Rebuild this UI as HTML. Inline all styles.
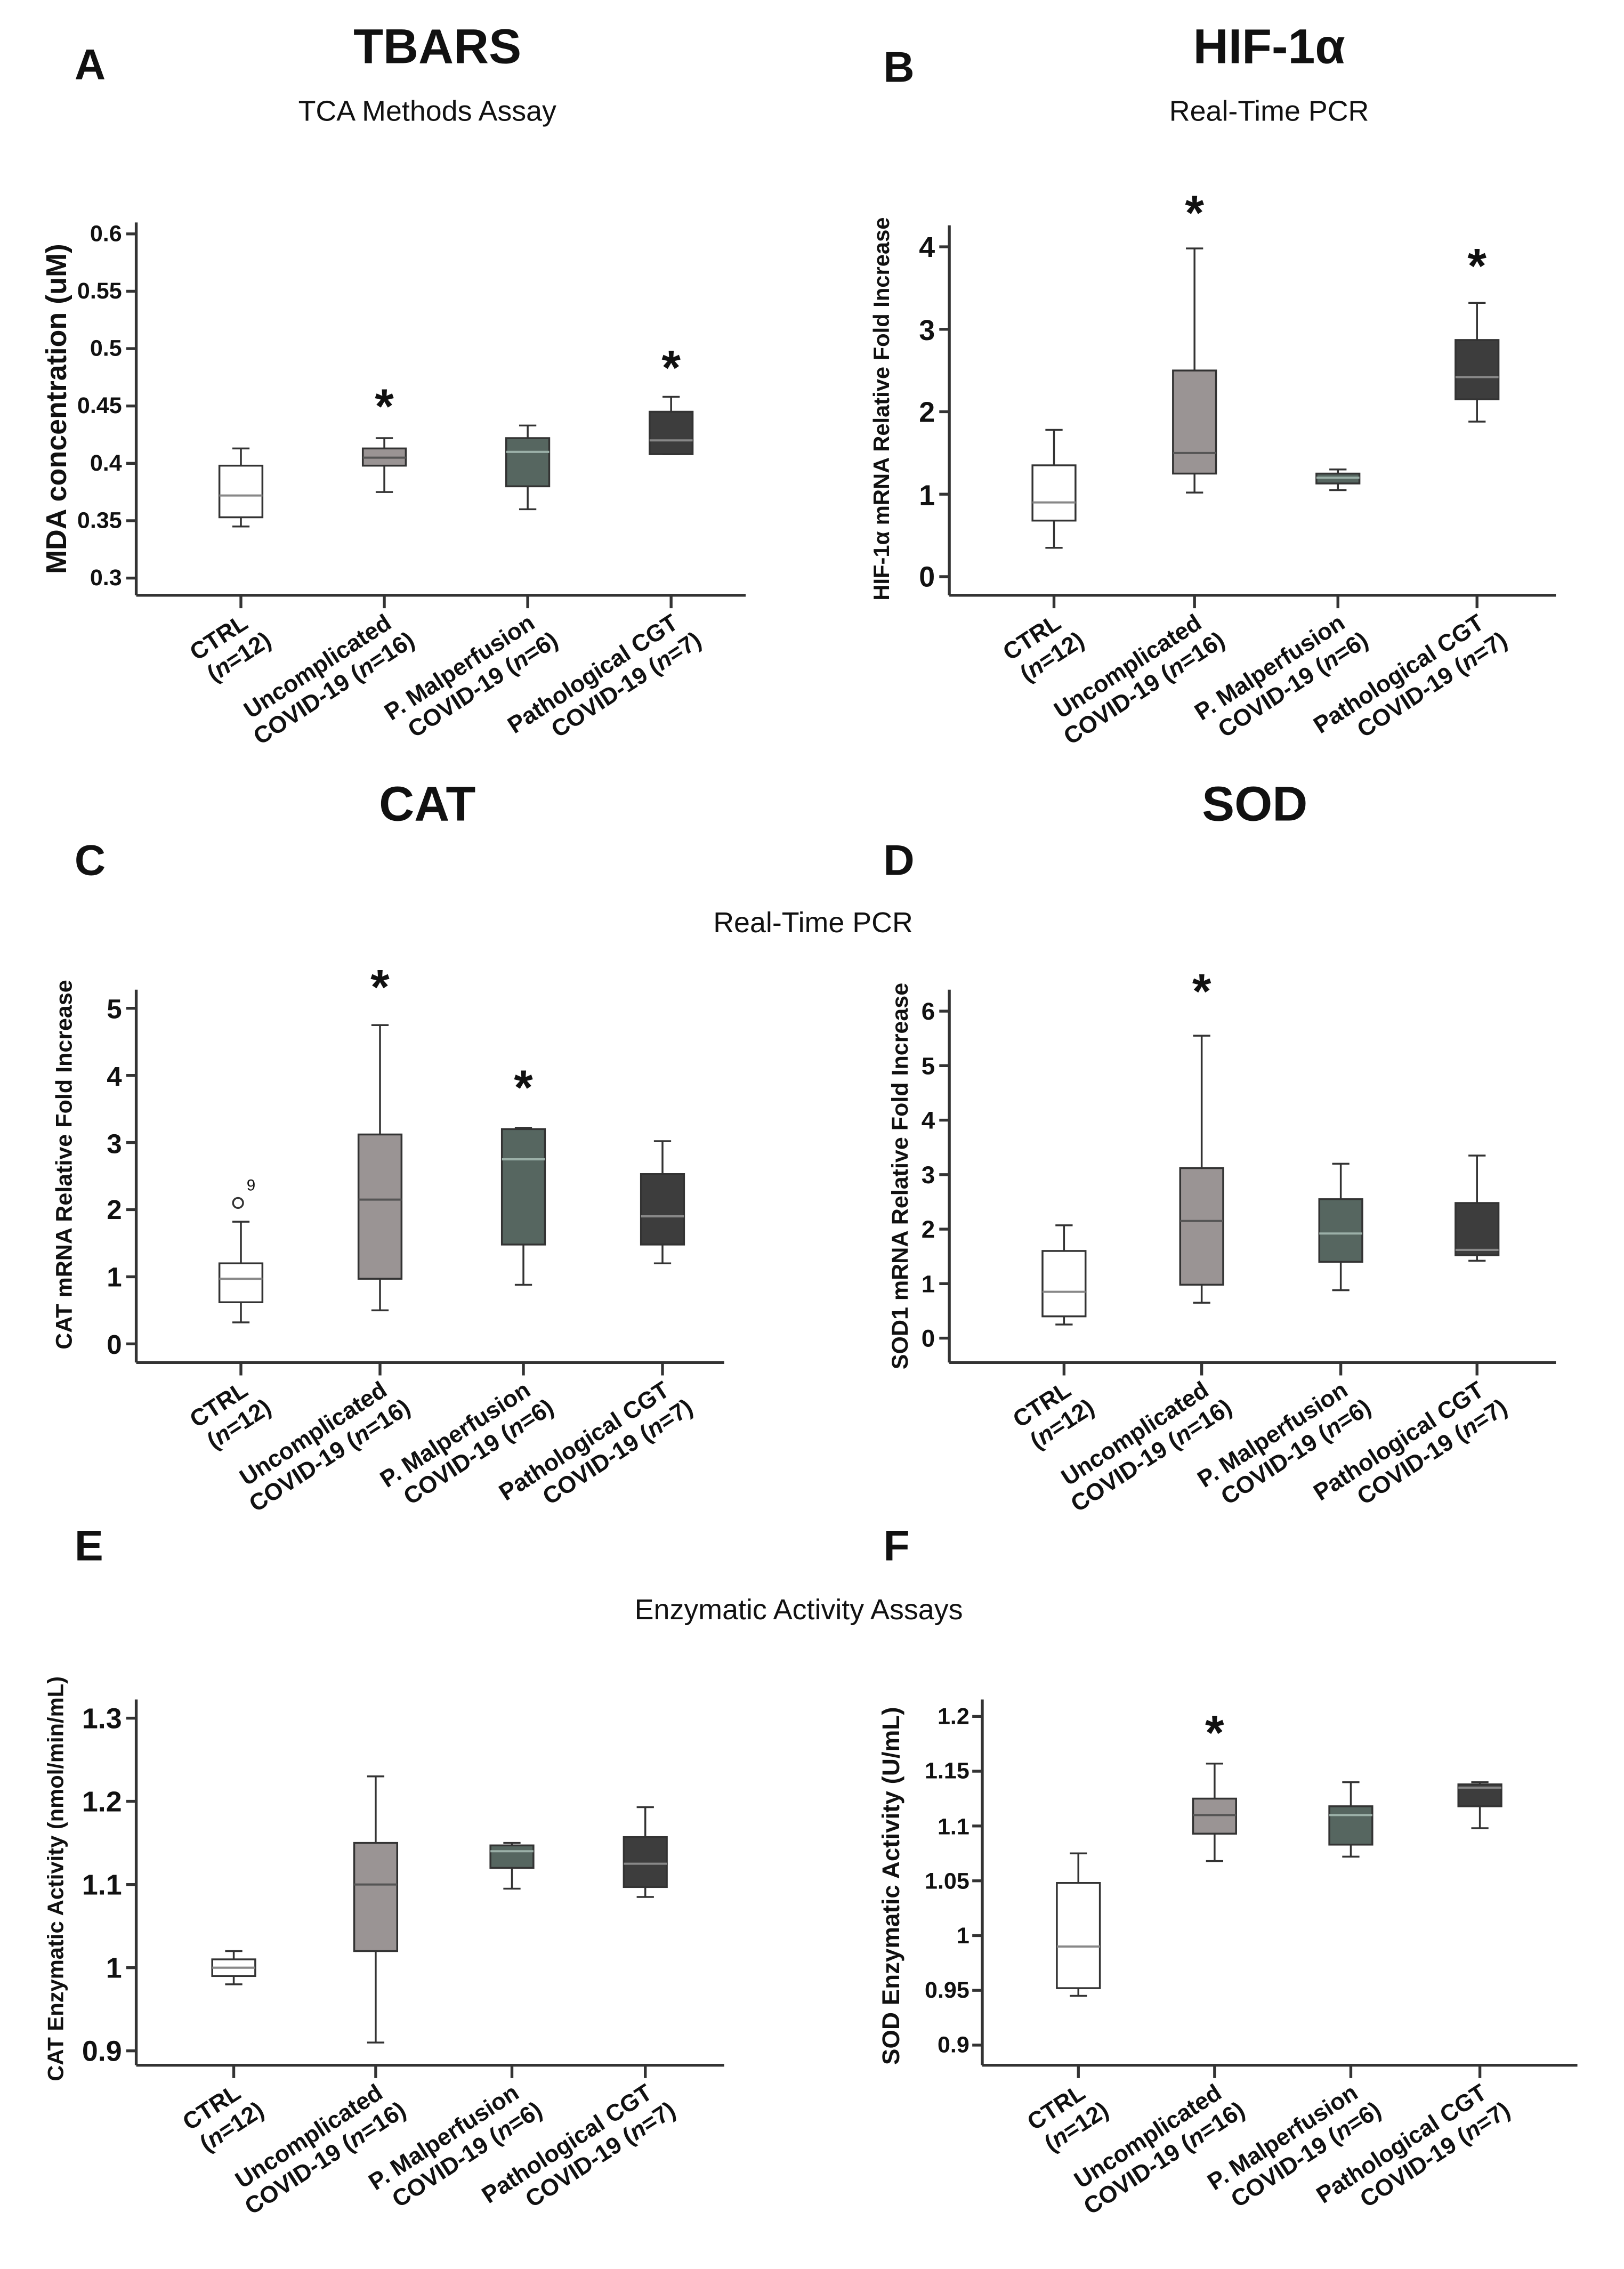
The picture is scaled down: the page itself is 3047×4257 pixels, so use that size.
<!DOCTYPE html>
<html><head><meta charset="utf-8"><style>
html,body{margin:0;padding:0;background:#fff}
svg{display:block}
text{font-family:"Liberation Sans",Arial,sans-serif;fill:#111}
.tt{font-size:34px;font-weight:bold;text-anchor:middle}
.pl{font-size:30px;font-weight:bold}
.st{font-size:20px;text-anchor:middle}
.tk{font-size:16px;font-weight:900;text-anchor:end}
.yl{font-size:18px;font-weight:bold;text-anchor:middle}
.xl{font-size:16.5px;font-weight:bold;text-anchor:end}
.star{font-size:34px;font-weight:bold;text-anchor:middle}
</style></head><body>
<svg id="s" width="3047" height="4257" viewBox="0 0 1132.5 1582" xmlns="http://www.w3.org/2000/svg">
<text class="pl" x="52" y="55">A</text><text class="tt" x="305" y="44">TBARS</text><text class="st" x="298" y="84">TCA Methods Assay</text>
<text class="pl" x="616" y="57">B</text><text class="tt" x="885" y="44">HIF-1α</text><text class="st" x="885" y="84">Real-Time PCR</text>
<text class="tt" x="298" y="572">CAT</text><text class="tt" x="875" y="572">SOD</text>
<text class="pl" x="52" y="610">C</text><text class="pl" x="616" y="610">D</text>
<text class="st" x="567" y="650">Real-Time PCR</text>
<text class="pl" x="52" y="1088">E</text><text class="pl" x="616" y="1088">F</text>
<text class="st" x="557" y="1129">Enzymatic Activity Assays</text>

<text class="yl" style="font-size:20px" transform="translate(46,285) rotate(-90)">MDA concentration (uM)</text>
<text class="yl" style="font-size:15.5px" transform="translate(620,285) rotate(-90)">HIF-1α mRNA Relative Fold Increase</text>
<text class="yl" style="font-size:16px" transform="translate(50,812) rotate(-90)">CAT mRNA Relative Fold Increase</text>
<text class="yl" style="font-size:16px" transform="translate(633,820) rotate(-90)">SOD1 mRNA Relative Fold Increase</text>
<text class="yl" style="font-size:15.5px" transform="translate(44,1310) rotate(-90)">CAT Enzymatic Activity (nmol/min/mL)</text>
<text class="yl" style="font-size:17px" transform="translate(627,1315) rotate(-90)">SOD Enzymatic Activity (U/mL)</text>

<text class="tk" x="85" y="168">0.6</text><text class="tk" x="85" y="208">0.55</text><text class="tk" x="85" y="248">0.5</text><text class="tk" x="85" y="288">0.45</text><text class="tk" x="85" y="328">0.4</text><text class="tk" x="85" y="368">0.35</text><text class="tk" x="85" y="408">0.3</text>
<text class="tk" style="font-size:20px" x="652" y="179">4</text><text class="tk" style="font-size:20px" x="652" y="237">3</text><text class="tk" style="font-size:20px" x="652" y="294">2</text><text class="tk" style="font-size:20px" x="652" y="352">1</text><text class="tk" style="font-size:20px" x="652" y="409">0</text>
<text class="tk" style="font-size:19px" x="85" y="710">5</text><text class="tk" style="font-size:19px" x="85" y="757">4</text><text class="tk" style="font-size:19px" x="85" y="804">3</text><text class="tk" style="font-size:19px" x="85" y="850">2</text><text class="tk" style="font-size:19px" x="85" y="897">1</text><text class="tk" style="font-size:19px" x="85" y="944">0</text>
<text class="tk" style="font-size:17px" x="652" y="711">6</text><text class="tk" style="font-size:17px" x="652" y="749">5</text><text class="tk" style="font-size:17px" x="652" y="787">4</text><text class="tk" style="font-size:17px" x="652" y="825">3</text><text class="tk" style="font-size:17px" x="652" y="863">2</text><text class="tk" style="font-size:17px" x="652" y="901">1</text><text class="tk" style="font-size:17px" x="652" y="939">0</text>
<text class="tk" style="font-size:20px" x="85" y="1205">1.3</text><text class="tk" style="font-size:20px" x="85" y="1263">1.2</text><text class="tk" style="font-size:20px" x="85" y="1321">1.1</text><text class="tk" style="font-size:20px" x="85" y="1379">1</text><text class="tk" style="font-size:20px" x="85" y="1437">0.9</text>
<text class="tk" x="676" y="1202">1.2</text><text class="tk" x="676" y="1240">1.15</text><text class="tk" x="676" y="1279">1.1</text><text class="tk" x="676" y="1317">1.05</text><text class="tk" x="676" y="1355">1</text><text class="tk" x="676" y="1393">0.95</text><text class="tk" x="676" y="1431">0.9</text>

<text class="star" x="268" y="295">*</text><text class="star" x="468" y="268">*</text>
<text class="star" x="833" y="160">*</text><text class="star" x="1030" y="197">*</text>
<text class="star" x="265" y="700">*</text><text class="star" x="365" y="770">*</text>
<text class="star" x="838" y="703">*</text>
<text class="star" x="847" y="1220">*</text>
<text x="172" y="830" style="font-size:11px">9</text>

<g id="labels"></g>
<g id="g"></g>
</svg>
<script>
var g=document.getElementById('g'),h='';
function L(x1,y1,x2,y2,w){h+='<line x1="'+x1+'" y1="'+y1+'" x2="'+x2+'" y2="'+y2+'" stroke="#333" stroke-width="'+(w||1.5)+'"/>';}
var cols=['#fff','#9a9494','#566660','#3d3d3d'],meds=['#888','#555','#9bb0a8','#888'];
function panel(ax,top,bot,right,y0,v0,scale,ticks,xs,boxes){
 L(ax,top,ax,bot,2);L(ax,bot,right,bot,2);
 ticks.forEach(function(v){var y=y0-(v-v0)*scale;L(ax-7,y,ax,y,2);});
 xs.forEach(function(x,i){L(x,bot,x,bot+9,2);var b=boxes[i],f=function(v){return y0-(v-v0)*scale;};
  var w=15;L(x,f(b[0]),x,f(b[4]),1.3);L(x-6,f(b[0]),x+6,f(b[0]),1.3);L(x-6,f(b[4]),x+6,f(b[4]),1.3);
  h+='<rect x="'+(x-w)+'" y="'+f(b[3])+'" width="'+(2*w)+'" height="'+(f(b[1])-f(b[3]))+'" fill="'+cols[i]+'" stroke="#333" stroke-width="1.3"/>';
  h+='<line x1="'+(x-w)+'" y1="'+f(b[2])+'" x2="'+(x+w)+'" y2="'+f(b[2])+'" stroke="'+meds[i]+'" stroke-width="1.5"/>';});
}
panel(95,155,415,520,403,0.3,800,[0.3,0.35,0.4,0.45,0.5,0.55,0.6],[168,268,368,468],
 [[0.345,0.353,0.372,0.398,0.413],[0.375,0.398,0.405,0.413,0.422],[0.36,0.38,0.41,0.422,0.433],[0.408,0.408,0.42,0.445,0.458]]);
panel(662,157,415,1085,402,0,57.5,[0,1,2,3,4],[735,833,933,1030],
 [[0.35,0.68,0.9,1.35,1.78],[1.02,1.25,1.5,2.5,3.98],[1.05,1.13,1.2,1.25,1.3],[1.88,2.15,2.42,2.87,3.32]]);
panel(95,690,950,505,937,0,46.8,[0,1,2,3,4,5],[168,265,365,462],
 [[0.32,0.62,0.97,1.2,1.82],[0.5,0.97,2.15,3.12,4.75],[0.88,1.48,2.75,3.2,3.22],[1.2,1.48,1.9,2.53,3.02]]);
panel(662,690,950,1085,933,0,38,[0,1,2,3,4,5,6],[742,838,935,1030],
 [[0.25,0.4,0.85,1.6,2.07],[0.65,0.98,2.15,3.12,5.55],[0.88,1.4,1.92,2.55,3.2],[1.42,1.52,1.62,2.48,3.35]]);
panel(95,1185,1440,505,1430,0.9,580,[0.9,1,1.1,1.2,1.3],[163,262,357,450],
 [[0.98,0.99,1.0,1.01,1.02],[0.91,1.02,1.1,1.15,1.23],[1.095,1.12,1.14,1.147,1.15],[1.085,1.097,1.125,1.157,1.193]]);
panel(685,1185,1440,1100,1426,0.9,764,[0.9,0.95,1,1.05,1.1,1.15,1.2],[752,847,942,1032],
 [[0.945,0.952,0.99,1.048,1.075],[1.068,1.093,1.11,1.125,1.157],[1.072,1.083,1.11,1.118,1.14],[1.098,1.118,1.135,1.138,1.14]]);
h+='<circle cx="166" cy="'+(937-2.1*46.8)+'" r="3.5" fill="#fff" stroke="#333" stroke-width="1.3"/>';
g.innerHTML=h;
</script>
<script>
// category labels (text kept in source)
var LBL=[["CTRL","(<tspan font-style='italic'>n</tspan>=12)"],["Uncomplicated","COVID-19 (<tspan font-style='italic'>n</tspan>=16)"],["P. Malperfusion","COVID-19 (<tspan font-style='italic'>n</tspan>=6)"],["Pathological CGT","COVID-19 (<tspan font-style='italic'>n</tspan>=7)"]];
var sets=[[[168,268,368,468],415],[[735,833,933,1030],415],[[168,265,365,462],950],[[742,838,935,1030],950],[[163,262,357,450],1440],[[752,847,942,1032],1440]];
var o='';sets.forEach(function(s){s[0].forEach(function(x,i){o+='<g transform="translate('+(x+6)+','+(s[1]+22)+') rotate(-33)"><text class="xl" x="0" y="0">'+LBL[i][0]+'</text><text class="xl" x="7" y="19">'+LBL[i][1]+'</text></g>';});});
document.getElementById('labels').innerHTML=o;
</script>
</body></html>
